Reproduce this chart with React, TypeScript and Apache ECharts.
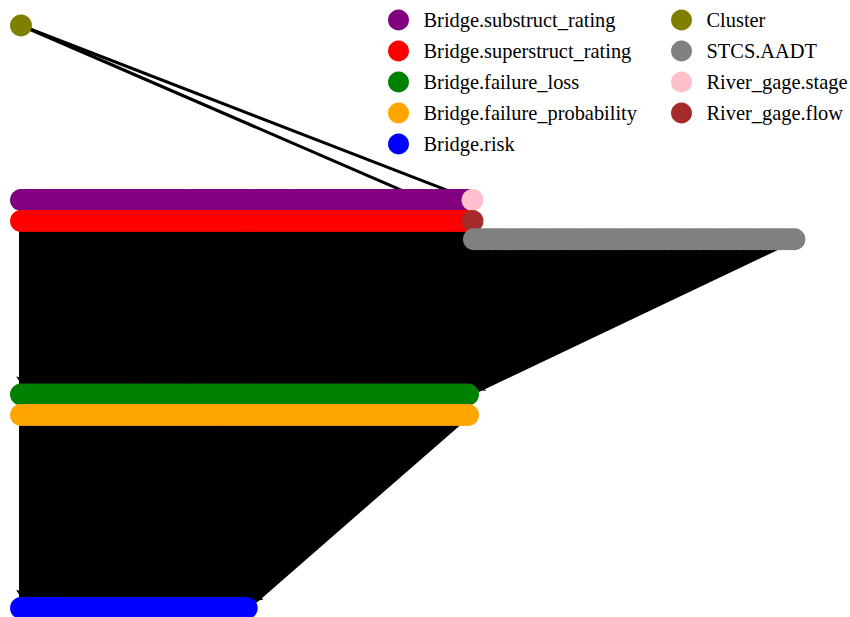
import React, { useEffect, useRef } from "react";
import * as echarts from "echarts";

// Node groups (categories) of the network, in legend order
const categories = [
  "Bridge.substruct_rating",
  "Bridge.superstruct_rating",
  "Bridge.failure_loss",
  "Bridge.failure_probability",
  "Bridge.risk",
  "Cluster",
  "STCS.AADT",
  "River_gage.stage",
  "River_gage.flow",
];
const colors = [
  "#800080",
  "#ff0000",
  "#008000",
  "#ffa500",
  "#0000ff",
  "#808000",
  "#808080",
  "#ffc0cb",
  "#a52a2a",
];
// number of nodes per group, first column index of the group, row level of the group
const nodeCounts = [100, 100, 100, 100, 51, 1, 72, 1, 1];
const columnStart = [0, 0, 0, 0, 0, 0, 100.3, 100, 100];
const rowLevel = [200, 221, 394.5, 415, 608, 25.5, 239.3, 200, 221];
// draw order of groups (later on top)
const drawOrder = [0, 1, 2, 3, 4, 5, 7, 8, 6];
// edges between groups: [source group, target group, kind]
const groupLinks: [number, number, string][] = [
  [5, 7, "one"],
  [5, 8, "one"],
  [0, 2, "pair"],
  [0, 3, "pair"],
  [1, 2, "pair"],
  [1, 3, "pair"],
  [6, 2, "scaled"],
  [2, 4, "scaled"],
  [3, 4, "scaled"],
];
const legendCol1 = categories.slice(0, 5);
const legendCol2 = categories.slice(5);

const SERIF = "Liberation Serif";

export default function App() {
  const ref = useRef<HTMLDivElement>(null);
  useEffect(() => {
    if (!ref.current) return;
    const chart = echarts.init(ref.current, undefined, { renderer: "svg" });

    const nodes: any[] = [];
    const firstIdx: number[] = new Array(categories.length).fill(0);
    drawOrder.forEach((g) => {
      firstIdx[g] = nodes.length;
      for (let i = 0; i < nodeCounts[g]; i++) {
        nodes.push({
          name: categories[g] + "_" + i,
          value: [columnStart[g] + i, rowLevel[g]],
          category: g,
        });
      }
    });
    const links: any[] = [];
    groupLinks.forEach(([s, t, kind]) => {
      const ns = nodeCounts[s];
      const nt = nodeCounts[t];
      for (let i = 0; i < ns; i++) {
        let j = 0;
        if (kind === "pair") j = i;
        else if (kind === "scaled") j = Math.round((i * (nt - 1)) / Math.max(ns - 1, 1));
        links.push({
          source: firstIdx[s] + i,
          target: firstIdx[t] + j,
          lineStyle: { width: kind === "one" ? 3 : 5 },
        });
      }
    });

    const legendBase = {
      orient: "vertical" as const,
      padding: 0,
      itemWidth: 40,
      itemHeight: 21,
      itemGap: 10,
      icon: "circle",
      textStyle: {
        fontFamily: SERIF,
        fontSize: 20.4,
        color: "#000",
      },
      selectedMode: false,
    };

    chart.setOption({
      animation: false,
      textStyle: { fontFamily: SERIF },
      grid: { left: 0, right: 0, top: 0, bottom: 0 },
      xAxis: { type: "value", min: -4.651, max: 183.6, show: false },
      yAxis: { type: "value", min: 0, max: 617, inverse: true, show: false },
      legend: [
        { ...legendBase, left: 388, top: 9.5, data: legendCol1 },
        { ...legendBase, left: 671, top: 9.5, data: legendCol2 },
      ],
      series: [
        {
          type: "graph",
          coordinateSystem: "cartesian2d",
          symbol: "circle",
          symbolSize: 22,
          edgeSymbol: ["none", "arrow"],
          edgeSymbolSize: 7,
          label: { show: false },
          emphasis: { disabled: true },
          lineStyle: { color: "#000", width: 3, opacity: 1 },
          categories: categories.map((c, k) => ({ name: c, itemStyle: { color: colors[k] } })),
          data: nodes,
          links,
        },
      ],
    });
    return () => chart.dispose();
  }, []);
  return (
    <div
      ref={ref}
      style={{ position: "fixed", left: 0, top: 0, width: 850, height: 617, background: "#fff" }}
    />
  );
}
